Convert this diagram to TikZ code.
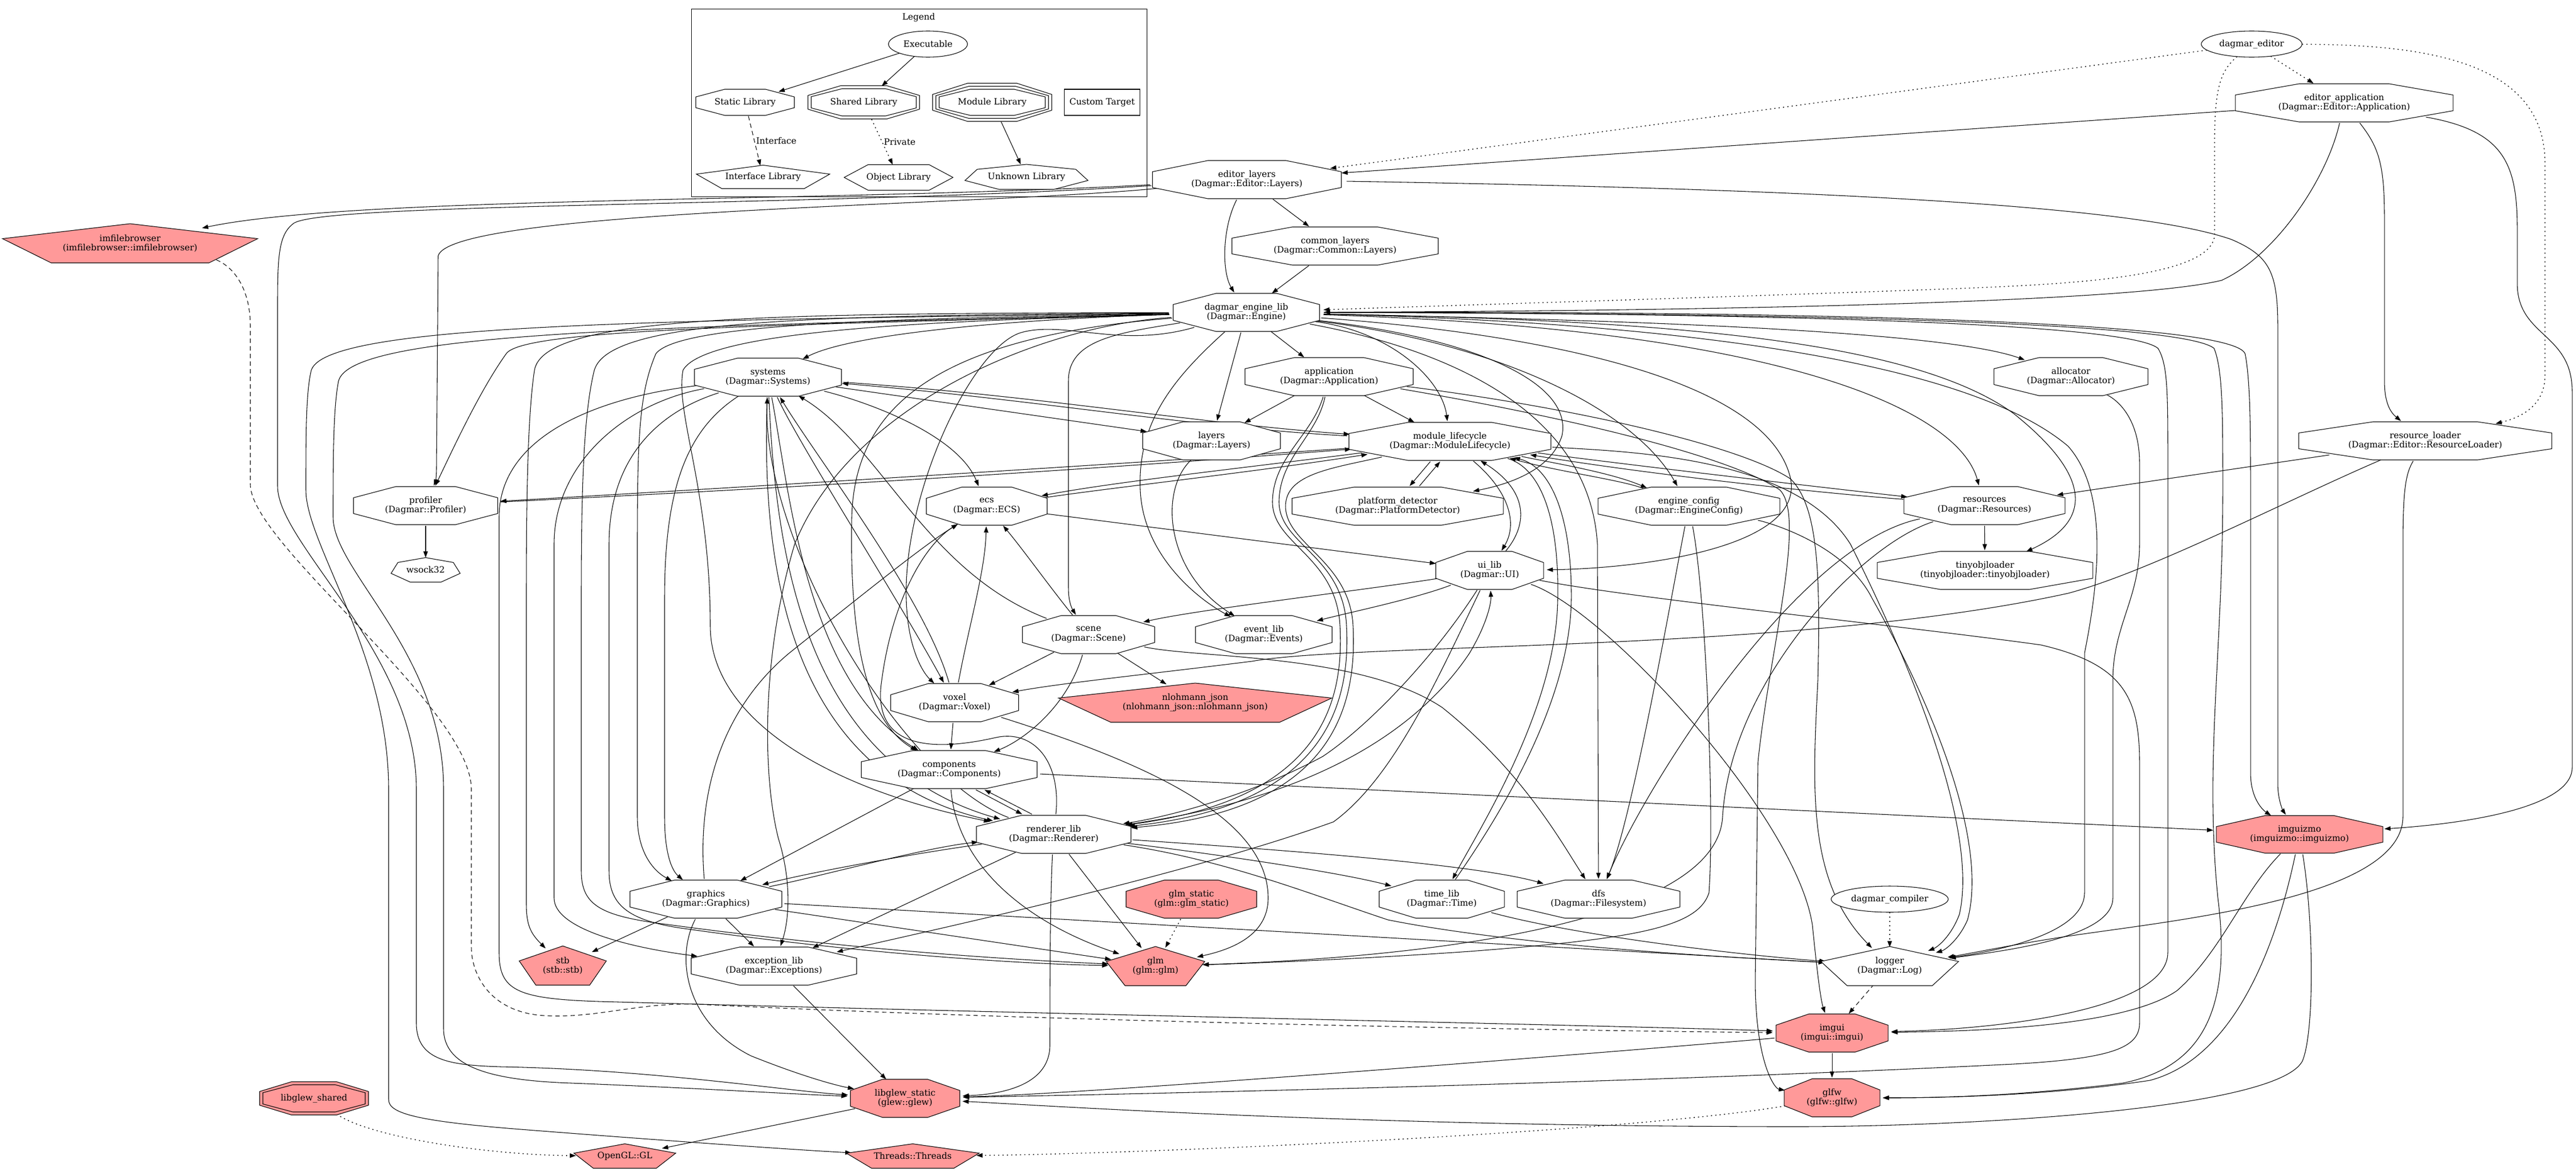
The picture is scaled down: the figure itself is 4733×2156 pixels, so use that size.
\documentclass[tikz,border=0pt]{standalone}
\usepackage{fontspec}
\setmainfont{DejaVu Serif}
\usetikzlibrary{arrows.meta,calc,shapes.geometric}
\definecolor{pk}{RGB}{255,153,153}
\pgfdeclarelayer{edges}
\pgfsetlayers{edges,main}
\tikzset{
  lbl/.style={font=\fontsize{12}{12.8}\selectfont, align=center},
  hit/.style={ellipse, inner sep=0pt, outer sep=0pt, lbl},
  shp/.style={draw=black, line width=0.8pt},
  eline/.style={draw=black, line width=0.8pt, -{Triangle[length=8.5pt,width=6pt]}},
  edot/.style={eline, line width=1pt, dash pattern=on 1.6pt off 4.4pt},
  edash/.style={eline, dash pattern=on 6pt off 4.5pt},
}
\newcommand{\octpoly}[5]{\filldraw[shp, fill=#5] ({#1+0.5*(#3)},{#2-0.2071*(#4)}) -- ({#1+0.2071*(#3)},{#2-0.5*(#4)}) -- ({#1-0.2071*(#3)},{#2-0.5*(#4)}) -- ({#1-0.5*(#3)},{#2-0.2071*(#4)}) -- ({#1-0.5*(#3)},{#2+0.2071*(#4)}) -- ({#1-0.2071*(#3)},{#2+0.5*(#4)}) -- ({#1+0.2071*(#3)},{#2+0.5*(#4)}) -- ({#1+0.5*(#3)},{#2+0.2071*(#4)}) -- cycle;}
\newcommand{\Oct}[7][white]{\octpoly{#3}{#4}{#5}{#6}{#1}\node[hit, minimum width={1.06*(#5)*0.75pt}, minimum height={1.06*(#6)*0.75pt}] (#2) at (#3,#4) {#7};}
\newcommand{\DOct}[7][white]{\octpoly{#3}{#4}{#5}{#6}{#1}\octpoly{#3}{#4}{#5-12}{#6-11}{#1}\node[hit, minimum width={1.03*(#5)*0.75pt}, minimum height={1.03*(#6)*0.75pt}] (#2) at (#3,#4) {#7};}
\newcommand{\TOct}[7][white]{\octpoly{#3}{#4}{#5}{#6}{#1}\octpoly{#3}{#4}{#5-12}{#6-11}{#1}\octpoly{#3}{#4}{#5-24}{#6-22}{#1}\node[hit, minimum width={1.03*(#5)*0.75pt}, minimum height={1.03*(#6)*0.75pt}] (#2) at (#3,#4) {#7};}
\newcommand{\Pent}[7][white]{\filldraw[shp, fill=#1] ({#3},{#4-0.5*(#6)}) -- ({#3+0.5*(#5)},{#4-0.118*(#6)}) -- ({#3+0.309*(#5)},{#4+0.5*(#6)}) -- ({#3-0.309*(#5)},{#4+0.5*(#6)}) -- ({#3-0.5*(#5)},{#4-0.118*(#6)}) -- cycle;\node[hit, minimum width={0.96*(#5)*0.75pt}, minimum height={0.96*(#6)*0.75pt}] (#2) at (#3,#4) {#7};}
\newcommand{\Sept}[7][white]{\filldraw[shp, fill=#1] ({#3},{#4-0.5*(#6)}) -- ({#3+0.401*(#5)},{#4-0.3015*(#6)}) -- ({#3+0.5*(#5)},{#4+0.1435*(#6)}) -- ({#3+0.2225*(#5)},{#4+0.5*(#6)}) -- ({#3-0.2225*(#5)},{#4+0.5*(#6)}) -- ({#3-0.5*(#5)},{#4+0.1435*(#6)}) -- ({#3-0.401*(#5)},{#4-0.3015*(#6)}) -- cycle;\node[hit, minimum width={(#5)*0.75pt}, minimum height={(#6)*0.75pt}] (#2) at (#3,#4) {#7};}
\newcommand{\Hex}[7][white]{\filldraw[shp, fill=#1] ({#3+0.5*(#5)},{#4}) -- ({#3+0.28*(#5)},{#4-0.5*(#6)}) -- ({#3-0.28*(#5)},{#4-0.5*(#6)}) -- ({#3-0.5*(#5)},{#4}) -- ({#3-0.28*(#5)},{#4+0.5*(#6)}) -- ({#3+0.28*(#5)},{#4+0.5*(#6)}) -- cycle;\node[hit, minimum width={(#5)*0.75pt}, minimum height={(#6)*0.75pt}] (#2) at (#3,#4) {#7};}
\newcommand{\Ell}[6]{\node[hit, draw=black, line width=0.8pt, fill=white, minimum width={(#4)*0.75pt}, minimum height={(#5)*0.75pt}] (#1) at (#2,#3) {#6};}

\begin{document}
\begin{tikzpicture}[x=0.75pt, y=-0.75pt]
\useasboundingbox (0,0) rectangle (4733,2156);

% ---------- legend ----------
\draw[draw=black, line width=0.7pt] (1270,16) rectangle (2107,361);
\node[lbl] (LT) at (1688,32) {Legend};
\Ell{LX}{1705}{81}{145}{48}{Executable}
\Oct{LS}{1369}{188}{181}{48}{Static Library}
\DOct{LSH}{1587}{188}{205}{61}{Shared Library}
\TOct{LM}{1823}{188}{219}{70}{Module Library}
\node[draw=black, line width=0.8pt, rectangle, minimum width={139*0.75pt}, minimum height={48*0.75pt}, lbl, fill=white] (LC) at (2025,188) {Custom Target};
\Pent{LI}{1402}{325}{245}{43}{Interface Library}
\Hex{LO}{1651}{326}{200}{47}{Object Library}
\Sept{LU}{1886}{325}{226}{46}{Unknown Library}

% ---------- nodes ----------
\Ell{ED}{4137}{81}{185}{48}{dagmar\_editor}
\Oct{EA}{4307}{189}{400}{70}{editor\_application\\(Dagmar::Editor::Application)}
\Oct{EL}{2291}{330}{347}{70}{editor\_layers\\(Dagmar::Editor::Layers)}
\Oct{CL}{2453}{452}{379}{70}{common\_layers\\(Dagmar::Common::Layers)}
\Pent[pk]{IFB}{239}{447}{469}{72}{imfilebrowser\\(imfilebrowser::imfilebrowser)}
\Oct{EN}{2290}{574}{269}{70}{dagmar\_engine\_lib\\(Dagmar::Engine)}
\Oct{SY}{1411}{693}{270}{70}{systems\\(Dagmar::Systems)}
\Oct{AP}{2442}{692}{309}{70}{application\\(Dagmar::Application)}
\Oct{AL}{3805}{692}{283}{70}{allocator\\(Dagmar::Allocator)}
\Oct{LA}{2226}{810}{253}{70}{layers\\(Dagmar::Layers)}
\Oct{ML}{2664}{811}{371}{70}{module\_lifecycle\\(Dagmar::ModuleLifecycle)}
\Oct{RL}{4456}{810}{465}{70}{resource\_loader\\(Dagmar::Editor::ResourceLoader)}
\Oct{PR}{782}{929}{265}{70}{profiler\\(Dagmar::Profiler)}
\Oct{ECS}{1813}{930}{222}{70}{ecs\\(Dagmar::ECS)}
\Oct{PD}{2568}{930}{388}{70}{platform\_detector\\(Dagmar::PlatformDetector)}
\Oct{EC}{3103}{930}{334}{70}{engine\_config\\(Dagmar::EngineConfig)}
\Oct{RS}{3646}{929}{296}{70}{resources\\(Dagmar::Resources)}
\Oct{UI}{2737}{1048}{198}{70}{ui\_lib\\(Dagmar::UI)}
\Oct{TO}{3647}{1048}{396}{70}{tinyobjloader\\(tinyobjloader::tinyobjloader)}
\Sept{WS}{782}{1047}{127}{45}{wsock32}
\Oct{SC}{2000}{1166}{243}{70}{scene\\(Dagmar::Scene)}
\Oct{EV}{2322}{1166}{251}{70}{event\_lib\\(Dagmar::Events)}
\Oct{VX}{1754}{1291}{235}{70}{voxel\\(Dagmar::Voxel)}
\Pent[pk]{NJ}{2196}{1291}{502}{72}{nlohmann\_json\\(nlohmann\_json::nlohmann\_json)}
\Oct{CO}{1744}{1414}{323}{70}{components\\(Dagmar::Components)}
\Oct{RE}{1936}{1533}{284}{70}{renderer\_lib\\(Dagmar::Renderer)}
\Oct[pk]{IGZ}{4225}{1533}{306}{69}{imguizmo\\(imguizmo::imguizmo)}
\Oct{GR}{1297}{1652}{279}{70}{graphics\\(Dagmar::Graphics)}
\Oct[pk]{GS}{2189}{1652}{240}{70}{glm\_static\\(glm::glm\_static)}
\Oct{TI}{2649}{1652}{230}{70}{time\_lib\\(Dagmar::Time)}
\Oct{DFS}{2937}{1652}{299}{70}{dfs\\(Dagmar::Filesystem)}
\Ell{DC}{3472}{1652}{215}{48}{dagmar\_compiler}
\Pent[pk]{STB}{1034}{1774}{160}{72}{stb\\(stb::stb)}
\Oct{EX}{1422}{1775}{304}{70}{exception\_lib\\(Dagmar::Exceptions)}
\Pent[pk]{GLM}{2123}{1775}{181}{72}{glm\\(glm::glm)}
\Pent{LOG}{3472}{1775}{253}{72}{logger\\(Dagmar::Log)}
\Oct[pk]{IMG}{3366}{1898}{206}{70}{imgui\\(imgui::imgui)}
\Oct[pk]{GLEW}{1663}{2018}{201}{70}{libglew\_static\\(glew::glew)}
\Oct[pk]{GLFW}{3366}{2017}{176}{70}{glfw\\(glfw::glfw)}
\DOct[pk]{GLS}{577}{2018}{200}{61}{libglew\_shared}
\Pent[pk]{GL}{1148}{2124}{187}{45}{OpenGL::GL}
\Pent[pk]{TH}{1677}{2124}{244}{45}{Threads::Threads}

\begin{pgfonlayer}{edges}
\fill[white] (0,0) rectangle (4733,2156);
% legend edges
\draw[eline] (LX) -- (LS);
\draw[eline] (LX) -- (LSH);
\draw[edash] (LS) -- node[right, lbl, inner sep=2pt] (lint) {Interface} (LI);
\draw[edot] (LSH) -- node[right, lbl, inner sep=2pt] (lpriv) {Private} (LO);
\draw[eline] (LM) -- (LU);

% top
\draw[edot] (ED) -- (EA);
\draw[edot] (ED) -- (EL);
\draw[edot] (ED) .. controls (4080,130) and (4069,160) .. (4069,260) -- (4069,430) .. controls (4069,510) and (3800,522) .. (3600,530) .. controls (3200,545) and (2700,560) .. (EN);
\draw[edot] (ED) .. controls (4450,82) and (4676,110) .. (4676,300) -- (4676,690) .. controls (4676,740) and (4640,765) .. (RL);
\draw[eline] (EA) -- (EL);
\draw[eline] (EA) .. controls (4275,330) and (4180,470) .. (4082,515) .. controls (3900,560) and (3000,572) .. (EN);
\draw[eline] (EA) .. controls (4370,270) and (4381,300) .. (4381,400) -- (4381,700) .. controls (4381,745) and (4395,760) .. (RL);
\draw[eline] (EA) .. controls (4600,240) and (4625,300) .. (4625,420) -- (4625,520) .. controls (4625,620) and (4726,610) .. (4726,720) -- (4726,1410) .. controls (4726,1480) and (4550,1512) .. (IGZ);
\draw[eline] (EL) -- (CL);
\draw[eline] (EL) .. controls (2245,420) and (2245,500) .. (EN);
\draw[eline] (EL) .. controls (1500,372) and (650,360) .. (IFB);
\draw[eline] (EL) .. controls (1800,378) and (830,385) .. (805,470) -- (802,860) .. controls (802,875) and (800,885) .. (PR);
\draw[eline] (EL) .. controls (1500,380) and (600,372) .. (540,410) .. controls (512,430) and (510,470) .. (510,560) -- (510,893) .. controls (510,1000) and (765,1200) .. (765,1450) -- (765,1880) .. controls (765,1950) and (830,1957) .. (920,1960) .. controls (1200,1965) and (1450,2005) .. (GLEW);
\draw[eline] (EL) .. controls (3200,345) and (3900,370) .. (4100,440) .. controls (4170,470) and (4185,500) .. (4185,600) -- (4185,1440) .. controls (4185,1470) and (4195,1490) .. (IGZ);
\draw[eline] (CL) -- (EN);

% engine
\draw[eline] (EN) .. controls (1900,585) and (1570,610) .. (SY);
\draw[eline] (EN) -- (AP);
\draw[eline] (EN) .. controls (2800,585) and (3550,600) .. (AL);
\draw[eline] (EN) -- (LA);
\draw[eline] (EN) .. controls (2560,610) and (2650,700) .. (ML);
\draw[eline] (EN) .. controls (1400,598) and (960,605) .. (930,650) .. controls (880,720) and (830,830) .. (PR);
\draw[eline] (EN) .. controls (2700,620) and (2890,700) .. (2870,800) .. controls (2850,865) and (2770,890) .. (PD);
\draw[eline] (EN) .. controls (2750,630) and (3000,750) .. (EC);
\draw[eline] (EN) .. controls (3300,605) and (3600,760) .. (RS);
\draw[eline] (EN) .. controls (3000,588) and (3500,615) .. (3700,760) .. controls (3850,880) and (3840,960) .. (TO);
\draw[eline] (EN) .. controls (2850,615) and (3250,700) .. (3290,880) .. controls (3315,1010) and (3000,1045) .. (UI);
\draw[eline] (EN) .. controls (2050,612) and (1963,625) .. (1963,700) -- (1963,1080) .. controls (1963,1110) and (1972,1122) .. (SC);
\draw[eline] (EN) .. controls (2150,700) and (2090,780) .. (2095,900) .. controls (2100,1020) and (2200,1100) .. (EV);
\draw[eline] (EN) .. controls (2060,640) and (1960,590) .. (1880,610) .. controls (1790,630) and (1660,900) .. (1665,1100) .. controls (1668,1200) and (1700,1240) .. (VX);
\draw[eline] (EN) .. controls (1700,620) and (1570,760) .. (1565,950) .. controls (1560,1200) and (1600,1330) .. (CO);
\draw[eline] (EN) .. controls (1800,588) and (1300,600) .. (1255,680) .. controls (1240,760) and (1305,900) .. (1305,1150) .. controls (1305,1320) and (1520,1450) .. (RE);
\draw[eline] (EN) .. controls (1700,585) and (1250,590) .. (1205,650) .. controls (1175,720) and (1171,800) .. (1171,1000) -- (1171,1500) .. controls (1171,1565) and (1200,1600) .. (GR);
\draw[eline] (EN) .. controls (1900,600) and (1560,750) .. (1460,1000) .. controls (1400,1200) and (1400,1420) .. (1430,1540) .. controls (1455,1620) and (1450,1690) .. (EX);
\draw[eline] (EN) .. controls (1500,580) and (1120,585) .. (1092,680) .. controls (1072,760) and (1068,900) .. (1068,1100) -- (1068,1600) .. controls (1068,1660) and (1100,1680) .. (1200,1695) .. controls (1600,1750) and (1900,1765) .. (GLM);
\draw[eline] (EN) .. controls (1400,576) and (1000,580) .. (982,680) .. controls (970,760) and (967,900) .. (967,1100) -- (967,1660) .. controls (967,1700) and (975,1715) .. (STB);
\draw[eline] (EN) .. controls (1200,588) and (600,595) .. (572,680) .. controls (562,720) and (562,800) .. (562,900) .. controls (562,1000) and (714,1200) .. (714,1450) -- (714,2020) .. controls (714,2045) and (760,2060) .. (970,2076) .. controls (1200,2094) and (1450,2112) .. (TH);
\draw[eline] (EN) .. controls (1200,600) and (645,610) .. (622,700) .. controls (612,750) and (612,850) .. (612,950) .. controls (612,1050) and (815,1200) .. (815,1450) -- (815,1890) .. controls (815,1960) and (900,1985) .. (1050,1990) .. controls (1300,2000) and (1450,2010) .. (GLEW);
\draw[eline] (EN) .. controls (3000,575) and (3900,585) .. (3965,640) .. controls (3983,670) and (3983,720) .. (3983,850) -- (3983,1750) .. controls (3983,1850) and (3700,1890) .. (IMG);
\draw[eline] (EN) .. controls (3100,575) and (4000,585) .. (4068,640) .. controls (4084,680) and (4084,760) .. (4084,900) .. controls (4084,1200) and (4050,1400) .. (4075,1650) .. controls (4100,1850) and (4050,1960) .. (3900,1990) .. controls (3700,2015) and (3550,2017) .. (GLFW);
\draw[eline] (EN) .. controls (3200,572) and (4100,585) .. (4125,650) .. controls (4135,700) and (4135,800) .. (4135,900) -- (4135,1420) .. controls (4135,1470) and (4160,1490) .. (IGZ);
\draw[eline] (EN) .. controls (3000,590) and (3600,650) .. (3800,820) .. controls (3870,900) and (3860,1050) .. (3830,1200) -- (3830,1640) .. controls (3830,1720) and (3650,1750) .. (LOG);
\draw[eline] (EN) .. controls (2650,640) and (2920,750) .. (2935,1000) -- (DFS);

% systems
\draw[eline] (SY) .. controls (1600,740) and (1760,800) .. (ECS);
\draw[eline] (SY) -- (LA);
\draw[eline] (SY) .. controls (1900,726) and (2200,778) .. (ML);
\draw[eline] (ML) .. controls (2200,786) and (1900,734) .. (SY);
\draw[eline] (SY) .. controls (1470,820) and (1650,1100) .. (VX);
\draw[eline] (VX) .. controls (1700,1100) and (1500,840) .. (SY);
\draw[eline] (SY) .. controls (1450,900) and (1480,1250) .. (CO);
\draw[eline] (SY) .. controls (1400,1000) and (1430,1420) .. (RE);
\draw[eline] (SY) .. controls (1425,1000) and (1470,1400) .. (RE);
\draw[eline] (RE) .. controls (1660,1430) and (1400,1000) .. (SY);
\draw[eline] (SY) .. controls (1260,790) and (1221,900) .. (1221,1100) -- (1221,1500) .. controls (1221,1570) and (1235,1600) .. (GR);
\draw[eline] (SY) .. controls (1200,760) and (1119,850) .. (1119,1000) -- (1119,1600) .. controls (1119,1660) and (1150,1690) .. (1250,1705) .. controls (1600,1755) and (1900,1772) .. (GLM);
\draw[eline] (SY) .. controls (1150,740) and (1018,850) .. (1018,1000) -- (1018,1650) .. controls (1018,1705) and (1150,1740) .. (EX);
\draw[eline] (SY) .. controls (1100,730) and (917,800) .. (917,950) -- (917,1750) .. controls (917,1820) and (950,1835) .. (1100,1840) .. controls (2000,1865) and (3000,1885) .. (IMG);

% application
\draw[eline] (AP) -- (LA);
\draw[eline] (AP) -- (ML);
\draw[eline] (AP) .. controls (2410,800) and (2340,840) .. (2338,920) .. controls (2336,1000) and (2455,1020) .. (2462,1150) .. controls (2470,1300) and (2420,1470) .. (RE);
\draw[eline] (AP) .. controls (2420,800) and (2352,840) .. (2350,920) .. controls (2348,1000) and (2468,1020) .. (2474,1150) .. controls (2482,1300) and (2430,1480) .. (RE);
\draw[eline] (AP) .. controls (2900,750) and (3200,820) .. (3290,880) .. controls (3340,930) and (3345,1050) .. (3340,1250) .. controls (3330,1450) and (3320,1620) .. (LOG);
\draw[eline] (AP) .. controls (2900,770) and (3180,840) .. (3270,900) .. controls (3320,950) and (3250,1200) .. (3230,1400) -- (3225,1800) .. controls (3225,1950) and (3260,2000) .. (GLFW);

% module lifecycle
\draw[eline] (ML) .. controls (2000,856) and (1500,887) .. (PR);
\draw[eline] (PR) .. controls (1500,894) and (2000,863) .. (ML);
\draw[eline] (ML) .. controls (2300,858) and (2050,885) .. (ECS);
\draw[eline] (ECS) .. controls (2050,895) and (2300,868) .. (ML);
\draw[eline] ($(ML.south)+(-36,0)$) -- ($(PD.north)+(22,0)$);
\draw[eline] ($(PD.north)+(40,0)$) -- ($(ML.south)+(-18,0)$);
\draw[eline] (ML) .. controls (2850,850) and (2960,868) .. (EC);
\draw[eline] (EC) .. controls (2980,882) and (2860,866) .. (ML);
\draw[eline] (ML) .. controls (3000,855) and (3300,890) .. (RS);
\draw[eline] (RS) .. controls (3300,902) and (3000,867) .. (ML);
\draw[eline] (ML) .. controls (2770,900) and (2790,960) .. (UI);
\draw[eline] (UI) .. controls (2810,960) and (2805,900) .. (ML);
\draw[eline] (ML) .. controls (2830,860) and (2865,950) .. (2862,1100) .. controls (2860,1300) and (2720,1520) .. (TI);
\draw[eline] (TI) .. controls (2740,1520) and (2885,1300) .. (2887,1100) .. controls (2888,950) and (2850,858) .. (ML);
\draw[eline] (ML) .. controls (2450,860) and (2362,870) .. (2362,930) .. controls (2362,1000) and (2480,1030) .. (2486,1150) .. controls (2494,1310) and (2440,1490) .. (RE);
\draw[eline] (ML) .. controls (3000,830) and (3300,840) .. (3400,1000) .. controls (3550,1300) and (3630,1550) .. (3600,1680) .. controls (3585,1720) and (3560,1740) .. (LOG);

% engine config / resources / resource loader
\draw[eline] (EC) .. controls (3250,960) and (3390,1000) .. (3440,1100) .. controls (3570,1330) and (3650,1560) .. (3615,1690) .. controls (3600,1725) and (3575,1745) .. (LOG);
\draw[eline] (EC) .. controls (3070,1100) and (3000,1500) .. (DFS);
\draw[eline] (EC) .. controls (3135,1100) and (3150,1500) .. (3140,1640) .. controls (3120,1705) and (3000,1725) .. (2700,1748) .. controls (2500,1762) and (2300,1770) .. (GLM);
\draw[eline] (RS) -- (TO);
\draw[eline] (RS) .. controls (3300,1000) and (3020,1450) .. (DFS);
\draw[eline] (RS) .. controls (3420,1000) and (3180,1250) .. (3165,1500) .. controls (3155,1700) and (2600,1760) .. (GLM);
\draw[eline] (RL) -- (RS);
\draw[eline] (RL) .. controls (4200,920) and (3950,1050) .. (3800,1090) .. controls (3300,1200) and (2500,1180) .. (2300,1215) .. controls (2100,1240) and (1950,1255) .. (VX);
\draw[eline] (RL) .. controls (4420,870) and (4415,900) .. (4415,1000) -- (4415,1500) .. controls (4415,1650) and (4000,1690) .. (3800,1720) .. controls (3700,1735) and (3620,1752) .. (LOG);

% ui
\draw[eline] (ECS) -- (UI);
\draw[eline] (UI) .. controls (2500,1085) and (2200,1120) .. (SC);
\draw[eline] (UI) .. controls (2600,1100) and (2480,1125) .. (EV);
\draw[eline] (UI) .. controls (2640,1200) and (2520,1330) .. (2430,1390) .. controls (2300,1460) and (2150,1500) .. (RE);
\draw[eline] (UI) .. controls (2950,1120) and (3300,1500) .. (3330,1700) .. controls (3340,1800) and (3346,1840) .. (IMG);
\draw[eline] (UI) .. controls (2640,1250) and (2560,1430) .. (2450,1510) .. controls (2200,1600) and (1800,1690) .. (EX);
\draw[eline] (UI) .. controls (3000,1100) and (3500,1150) .. (3750,1185) .. controls (3900,1220) and (3931,1280) .. (3931,1400) -- (3931,1880) .. controls (3931,1925) and (3880,1945) .. (3700,1955) .. controls (3000,1990) and (2100,2010) .. (GLEW);
\draw[eline] (AL) .. controls (3900,740) and (3931,780) .. (3931,850) -- (3931,1000) .. controls (3931,1100) and (3882,1150) .. (3882,1250) -- (3882,1650) .. controls (3882,1720) and (3700,1745) .. (LOG);

% layers, scene, voxel
\draw[eline] (LA) .. controls (2130,900) and (2140,1050) .. (EV);
\draw[eline] (SC) .. controls (1700,1050) and (1620,820) .. (SY);
\draw[eline] (SC) .. controls (1930,1080) and (1880,1010) .. (ECS);
\draw[eline] (SC) -- (VX);
\draw[eline] (SC) .. controls (1960,1300) and (1880,1360) .. (CO);
\draw[eline] (SC) -- (NJ);
\draw[eline] (SC) .. controls (2200,1210) and (2500,1200) .. (2650,1300) .. controls (2800,1420) and (2870,1550) .. (DFS);
\draw[eline] (VX) .. controls (1780,1150) and (1810,1050) .. (ECS);
\draw[eline] (VX) -- (CO);
\draw[eline] (VX) .. controls (2100,1400) and (2330,1500) .. (2330,1650) .. controls (2330,1720) and (2260,1745) .. (GLM);

% components, renderer
\draw[eline] (CO) -- (GR);
\draw[eline] ($(CO.south)+(49,0)$) -- ($(RE.north)+(-58,0)$);
\draw[eline] ($(RE.north)+(-40,0)$) -- ($(CO.south)+(65,0)$);
\draw[eline] (CO) .. controls (1760,1600) and (1900,1700) .. (GLM);
\draw[eline] (CO) -- (IGZ);
\draw[eline] (RE) .. controls (1700,1565) and (1500,1600) .. (GR);
\draw[eline] (GR) .. controls (1500,1612) and (1700,1557) .. (RE);
\draw[eline] (RE) -- (EX);
\draw[eline] (RE) -- (GLM);
\draw[eline] (RE) .. controls (1929,1650) and (1929,1850) .. (1929,1920) .. controls (1929,1990) and (1850,2010) .. (GLEW);
\draw[eline] (RE) .. controls (2200,1565) and (2450,1600) .. (TI);
\draw[eline] (RE) .. controls (2300,1558) and (2700,1585) .. (DFS);
\draw[eline] (RE) .. controls (2250,1580) and (2400,1640) .. (2550,1690) .. controls (2800,1740) and (3200,1760) .. (LOG);
\draw[eline] (RE) .. controls (1950,1400) and (1900,1340) .. (1830,1355) .. controls (1720,1380) and (1600,1380) .. (1620,1250) .. controls (1640,1100) and (1700,1000) .. (ECS);
\draw[eline] (RE) .. controls (2400,1470) and (2600,1350) .. (2700,1200) .. controls (2730,1150) and (2740,1110) .. (UI);

% graphics and below
\draw[eline] (GR) -- (STB);
\draw[eline] (GR) -- (EX);
\draw[eline] (GR) -- (GLM);
\draw[eline] (GR) -- (LOG);
\draw[eline] (GR) .. controls (1240,1760) and (1260,1880) .. (1380,1940) .. controls (1480,1980) and (1540,1995) .. (GLEW);
\draw[eline] (GR) .. controls (1280,1450) and (1330,1300) .. (1450,1200) .. controls (1600,1080) and (1700,1000) .. (ECS);
\draw[eline] (TI) .. controls (2900,1720) and (3200,1755) .. (LOG);
\draw[eline] (EX) -- (GLEW);
\draw[edot] (GS) -- (GLM);
\draw[edot] (DC) -- (LOG);
\draw[edash] (LOG) -- (IMG);
\draw[eline] (IMG) -- (GLFW);
\draw[eline] (IMG) .. controls (3000,1930) and (2000,2010) .. (GLEW);
\draw[eline] (IGZ) .. controls (4120,1640) and (4080,1750) .. (4000,1820) .. controls (3900,1890) and (3600,1895) .. (IMG);
\draw[eline] (IGZ) .. controls (4190,1700) and (4120,1940) .. (3950,1985) .. controls (3750,2015) and (3550,2017) .. (GLFW);
\draw[eline] (IGZ) .. controls (4252,1700) and (4252,1900) .. (4230,1950) .. controls (4180,2040) and (3600,2070) .. (3300,2070) .. controls (2500,2070) and (1900,2030) .. (GLEW);
\draw[edot] (GLFW) .. controls (3000,2080) and (2100,2120) .. (TH);
\draw[eline] (GLEW) -- (GL);
\draw[edot] (GLS) .. controls (680,2090) and (900,2122) .. (GL);
\draw[edash] (IFB) .. controls (420,480) and (460,520) .. (460,600) -- (460,890) .. controls (460,1000) and (866,1300) .. (866,1450) -- (866,1740) .. controls (866,1790) and (900,1860) .. (1000,1866) .. controls (1100,1872) and (1180,1838) .. (1300,1846) .. controls (2000,1880) and (3000,1895) .. (IMG);
\draw[eline] (PR) -- (WS);
\end{pgfonlayer}
\end{tikzpicture}
\end{document}
